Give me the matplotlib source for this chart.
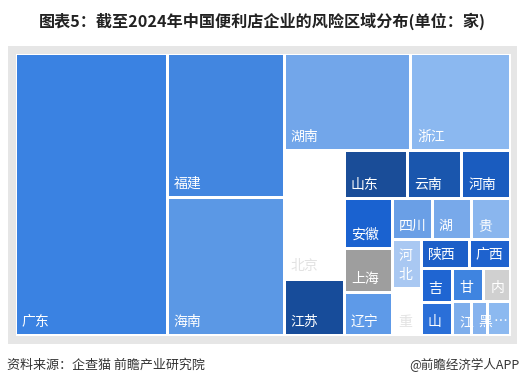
import matplotlib
matplotlib.use("Agg")
import matplotlib.pyplot as plt
from matplotlib.patches import Rectangle

plt.rcParams['font.family'] = ['Noto Sans CJK SC', 'DejaVu Sans']

# ---------------- data ----------------
provinces = ["广东", "福建", "海南", "湖南", "浙江", "北京", "江苏", "山东", "云南",
             "河南", "安徽", "上海", "辽宁", "四川", "湖北", "贵州", "河北", "重庆",
             "陕西", "广西", "吉林", "山西", "甘肃", "内蒙古", "江西", "黑龙江", "其他"]
counts = [2139, 841, 806, 610, 483, 388, 169, 154, 132,
          118, 118, 105, 104, 82, 80, 80, 71, 69,
          69, 60, 52, 52, 52, 44, 32, 27, 39]
shown_labels = ["广东", "福建", "海南", "湖南", "浙江", "北京", "江苏", "山东", "云南",
                "河南", "安徽", "上海", "辽宁", "四川", "湖", "贵", "河\n北", "重",
                "陕西", "广西", "吉", "山", "甘", "内", "江", "黑", "…"]
colors = ["#3a82e2", "#4286e0", "#5b98e5", "#72a6ea", "#8bb8f0", "#ffffff", "#174c9a",
          "#1a4d98", "#1a56ad", "#1a5cbf", "#1a62d0", "#9e9e9e", "#5e9ae8", "#6a9fe6",
          "#78a9ea", "#8ab6ee", "#a9c8f2", "#ffffff", "#1d5fc8", "#1e62ce", "#1f65d2",
          "#2a6fd8", "#3f84e0", "#d0d0d0", "#7eaeec", "#86b3ee", "#8cb9f0"]
label_colors = ["#e2e2e2" if c == "#ffffff" else "white" for c in colors]

title = "图表5：截至2024年中国便利店企业的风险区域分布(单位：家)"
source = "资料来源：企查猫 前瞻产业研究院"
brand = "@前瞻经济学人APP"


# ------------- squarified layout -------------
def worst(row, fixed, ratio):
    s = sum(row)
    f = fixed * fixed * ratio
    return max(f * max(row) / (s * s), (s * s) / (f * min(row)))


def squarify(values, x, y, w, h, ratio=0.8):
    total = float(sum(values))
    areas = [v / total * w * h for v in values]
    rect = [x, y, w, h]
    out = []

    def place(row, flush):
        horiz = fixed == rect[2]
        s = sum(row)
        other = s / fixed
        if flush:
            other = rect[3] if horiz else rect[2]
        pos = rect[0] if horiz else rect[1]
        end = pos + (rect[2] if horiz else rect[3])
        for k, a in enumerate(row):
            step = a / other
            if k == len(row) - 1:
                step = end - pos
            if horiz:
                out.append((pos, rect[1], step, other))
            else:
                out.append((rect[0], pos, other, step))
            pos += step
        if horiz:
            rect[1] += other
            rect[3] -= other
        else:
            rect[0] += other
            rect[2] -= other

    fixed = min(w, h)
    row, best, i = [], float("inf"), 0
    while i < len(areas):
        row.append(areas[i])
        sc = worst(row, fixed, ratio)
        if sc <= best:
            best = sc
            i += 1
        else:
            row.pop()
            place(row, False)
            fixed = min(rect[2], rect[3])
            row, best = [], float("inf")
    if row:
        place(row, True)
    return out


# ---------------- figure ----------------
W, H = 525, 386
fig = plt.figure(figsize=(W / 100, H / 100), dpi=100)
ax = fig.add_axes([0, 0, 1, 1])
ax.set_xlim(0, W)
ax.set_ylim(H, 0)
ax.axis("off")

# panel
ax.add_patch(Rectangle((7.5, 46), 509, 298, facecolor="#e6e6e6", edgecolor="none"))
X0, Y0, X1, Y1 = 15.5, 53.5, 510.5, 335.5
ax.add_patch(Rectangle((X0, Y0), X1 - X0, Y1 - Y0, facecolor="white", edgecolor="none"))

g = 1.5
rects = squarify(counts, X0, Y0, X1 - X0, Y1 - Y0)
for (rx, ry, rw, rh), col, lab, lc in zip(rects, colors, shown_labels, label_colors):
    ax.add_patch(Rectangle((rx + g, ry + g), rw - 2 * g, rh - 2 * g,
                           facecolor=col, edgecolor="none"))
    nlines = lab.count("\n") + 1
    ax.text(rx + g + 5, ry + rh - g - 5, lab, color=lc, fontsize=10,
            ha="left", va="bottom", linespacing=1.45)

ax.text(262, 21, title, fontsize=11.6, fontweight="bold", color="#222222",
        ha="center", va="center")
ax.text(7, 365, source, fontsize=9.4, color="#333333", ha="left", va="center")
ax.text(520, 365, brand, fontsize=9.0, color="#333333", ha="right", va="center")

fig.savefig("out.png", dpi=100)
